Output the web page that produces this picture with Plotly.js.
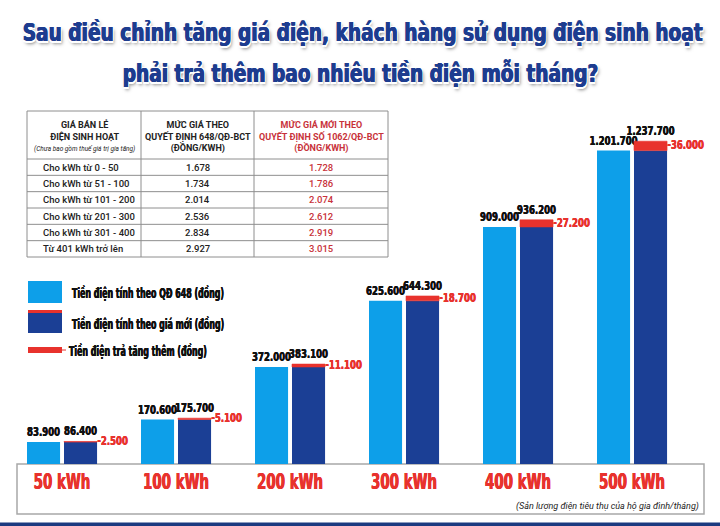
<!DOCTYPE html>
<html>
<head>
<meta charset="utf-8">
<script src="https://cdn.plot.ly/plotly-3.0.1.min.js"></script>
<style>
html,body{margin:0;padding:0;background:#fff;}
#chart{width:720px;height:526px;}
</style>
</head>
<body>
<div id="chart"></div>
<script>
// ---- data ----
const categories = ["50 kWh", "100 kWh", "200 kWh", "300 kWh", "400 kWh", "500 kWh"];
const oldBill = [83900, 170600, 372000, 625600, 909000, 1201700];
const newBill = [86400, 175700, 383100, 644300, 936200, 1237700];
const increase = [2500, 5100, 11100, 18700, 27200, 36000];

const tierLabels = ["Cho kWh từ 0 - 50", "Cho kWh từ 51 - 100", "Cho kWh từ 101 - 200",
                    "Cho kWh từ 201 - 300", "Cho kWh từ 301 - 400", "Từ 401 kWh trở lên"];
const priceOld = [1678, 1734, 2014, 2536, 2834, 2927];
const priceNew = [1728, 1786, 2074, 2612, 2919, 3015];

const legendLabels = ["Tiền điện tính theo QĐ 648 (đồng)", "Tiền điện tính theo giá mới (đồng)", "Tiền điện trả tăng thêm (đồng)"];
const titleLines = ["Sau điều chỉnh tăng giá điện, khách hàng sử dụng điện sinh hoạt", "phải trả thêm bao nhiêu tiền điện mỗi tháng?"];
const tableHeader = [
  "<b>GIÁ BÁN LẺ</b><br><b>ĐIỆN SINH HOẠT</b><br><i><span style='font-size:6.5px'>(Chưa bao gồm thuế giá trị gia tăng)</span></i>",
  "<b>MỨC GIÁ THEO</b><br><b>QUYẾT ĐỊNH 648/QĐ-BCT</b><br><b>(ĐỒNG/KWH)</b>",
  "<b>MỨC GIÁ MỚI THEO</b><br><b>QUYẾT ĐỊNH SỐ 1062/QĐ-BCT</b><br><b>(ĐỒNG/KWH)</b>"
];
const footNote = "(Sản lượng điện tiêu thụ của hộ gia đình/tháng)";

// ---- style ----
const W = 720, H = 526;
const LIGHT = "#0d9fe9", DARK = "#1b3f95", RED = "#e8322d", NAVY = "#1d3c8f", TRED = "#c8323a";
const HEAVY = "'DejaVu Sans', sans-serif";
const TFONT = "Roboto, 'Noto Sans', sans-serif";
const px = x => x / W, py = y => 1 - y / H;
const fmt = v => v.toString().replace(/\B(?=(\d{3})+(?!\d))/g, ".");
const idx = categories.map((c, i) => i);
const bold = (c, d) => `${d}px 0 0 ${c}, -${d}px 0 0 ${c}`;

const barW = 0.29;
const valFont = {family: HEAVY, size: 13, color: "#111", weight: 700, shadow: bold("#111", 0.3)};
const traces = [
  {
    type: "bar", x: idx, y: oldBill, offset: -0.307, width: barW,
    marker: {color: LIGHT}, texttemplate: "%{y:,.0f}", textposition: "outside",
    constraintext: "none", cliponaxis: false, textfont: valFont,
    hoverinfo: "skip", showlegend: false
  },
  {
    type: "bar", x: idx, y: oldBill, offset: 0.0175, width: barW,
    marker: {color: DARK}, hoverinfo: "skip", showlegend: false
  },
  {
    type: "bar", x: idx, y: increase, base: oldBill, offset: 0.0175, width: barW,
    marker: {color: RED, line: {color: RED, width: 0.6}}, customdata: newBill, texttemplate: "%{customdata:,.0f}",
    textposition: "outside", constraintext: "none", cliponaxis: false, textfont: valFont,
    hoverinfo: "skip", showlegend: false
  },
  {
    type: "scatter", mode: "text", x: idx.map(i => i + 0.31),
    y: oldBill.map((v, i) => v + increase[i] / 2), customdata: increase,
    texttemplate: "-%{customdata:,.0f}", textposition: "middle right",
    textfont: {family: HEAVY, size: 13, color: RED, weight: 700, shadow: bold(RED, 0.3)},
    cliponaxis: false, hoverinfo: "skip", showlegend: false
  }
];

const shapes = [
  {type: "rect", xref: "paper", yref: "paper", x0: px(17), x1: px(704), y0: py(514), y1: py(464),
   line: {color: "#a8a8a8", width: 1.5}, layer: "below"},
  {type: "rect", xref: "paper", yref: "paper", x0: 0, x1: 1, y0: 0, y1: py(522.5),
   fillcolor: "#1c3a80", line: {width: 0}},
  {type: "rect", xref: "paper", yref: "paper", x0: px(28), x1: px(62), y0: py(303), y1: py(281),
   fillcolor: LIGHT, line: {width: 0}},
  {type: "rect", xref: "paper", yref: "paper", x0: px(28), x1: px(62), y0: py(333), y1: py(310),
   fillcolor: DARK, line: {width: 0}},
  {type: "rect", xref: "paper", yref: "paper", x0: px(28), x1: px(62), y0: py(313), y1: py(310),
   fillcolor: RED, line: {width: 0}},
  {type: "rect", xref: "paper", yref: "paper", x0: px(28), x1: px(62), y0: py(353), y1: py(347),
   fillcolor: RED, line: {width: 0}},
  {type: "line", xref: "paper", yref: "paper", x0: px(62), x1: px(66), y0: py(350), y1: py(350),
   line: {color: RED, width: 1}}
];

const titleFont = {family: HEAVY, size: 24, color: NAVY, weight: 700,
  shadow: bold(NAVY, 0.6) + ", 1.5px 1.5px 0 #fff, -1.5px -1.5px 0 #fff, 1.5px -1.5px 0 #fff, -1.5px 1.5px 0 #fff, 2px 3px 4px rgba(0,0,0,0.5)"};
const legFont = {family: HEAVY, size: 14, color: "#111", weight: 700, shadow: bold("#111", 0.3)};
const annotations = [
  {xref: "paper", yref: "paper", x: px(362), y: py(33), text: titleLines[0], showarrow: false,
   xanchor: "center", yanchor: "middle", font: titleFont},
  {xref: "paper", yref: "paper", x: px(360), y: py(73), text: titleLines[1], showarrow: false,
   xanchor: "center", yanchor: "middle", font: titleFont},
  {xref: "paper", yref: "paper", x: px(70), y: py(293), text: legendLabels[0], showarrow: false,
   xanchor: "left", yanchor: "middle", font: legFont},
  {xref: "paper", yref: "paper", x: px(70), y: py(324), text: legendLabels[1], showarrow: false,
   xanchor: "left", yanchor: "middle", font: legFont},
  {xref: "paper", yref: "paper", x: px(67), y: py(351), text: legendLabels[2], showarrow: false,
   xanchor: "left", yanchor: "middle", font: legFont},
  {xref: "paper", yref: "paper", x: px(701), y: py(506), text: "<i>" + footNote + "</i>", showarrow: false,
   xanchor: "right", yanchor: "middle", font: {family: TFONT, size: 9, color: "#222"}}
];

// ---- price table (grid lines + cell texts built from the arrays) ----
const colEdges = [27, 141, 254, 388];
const headTop = 111, headBot = 159, rowH = (257 - 159) / tierLabels.length;
const rowEdges = [headTop, headBot].concat(tierLabels.map((t, i) => headBot + rowH * (i + 1)));
const gridColor = "#8e8e8e";
rowEdges.forEach(y => shapes.push({type: "line", xref: "paper", yref: "paper",
  x0: px(colEdges[0]), x1: px(colEdges[3]), y0: py(y), y1: py(y), line: {color: gridColor, width: 1}}));
colEdges.forEach(x => shapes.push({type: "line", xref: "paper", yref: "paper",
  x0: px(x), x1: px(x), y0: py(rowEdges[0]), y1: py(rowEdges[rowEdges.length - 1]), line: {color: gridColor, width: 1}}));
const colColors = ["#222", "#222", TRED];
tableHeader.forEach((h, c) => annotations.push({xref: "paper", yref: "paper",
  x: px((colEdges[c] + colEdges[c + 1]) / 2), y: py((headTop + headBot) / 2 + 1), text: h, showarrow: false,
  xanchor: "center", yanchor: "middle", align: "center",
  font: {family: TFONT, size: 9, color: colColors[c]}}));
const cols = [tierLabels, priceOld.map(fmt), priceNew.map(fmt)];
cols.forEach((col, c) => col.forEach((v, r) => {
  const yc = headBot + rowH * (r + 0.5);
  annotations.push(c === 0
    ? {xref: "paper", yref: "paper", x: px(colEdges[0] + 14), y: py(yc), text: v, showarrow: false,
       xanchor: "left", yanchor: "middle", font: {family: TFONT, size: 9.5, color: colColors[c], weight: 500}}
    : {xref: "paper", yref: "paper", x: px((colEdges[c] + colEdges[c + 1]) / 2), y: py(yc), text: v, showarrow: false,
       xanchor: "center", yanchor: "middle", font: {family: TFONT, size: 9.5, color: colColors[c], weight: 500}});
}));

const layout = {
  width: W, height: H,
  margin: {l: 0, r: 0, t: 0, b: 0},
  paper_bgcolor: "#fff", plot_bgcolor: "rgba(0,0,0,0)",
  separators: ",.",
  barmode: "overlay",
  showlegend: false,
  xaxis: {
    domain: [px(5), px(689)], range: [-0.5, 5.5], tickangle: 0, automargin: false,
    tickvals: idx, ticktext: categories, ticks: "", showgrid: false, zeroline: false,
    showline: false, fixedrange: true, ticklabelstandoff: 3,
    tickfont: {family: HEAVY, size: 21, color: RED, weight: 700, shadow: bold(RED, 0.5)}
  },
  yaxis: {
    domain: [py(464), py(100)], range: [0, 1395700], visible: false, fixedrange: true
  },
  shapes: shapes,
  annotations: annotations
};

// compress glyphs horizontally to mimic the condensed display face
function condense(nodes, factor, shiftLeft) {
  nodes.forEach(t => {
    const w = t.getComputedTextLength();
    if (w > 0) {
      t.setAttribute("textLength", (w * factor).toFixed(2));
      t.setAttribute("lengthAdjust", "spacingAndGlyphs");
      if (shiftLeft) {
        const x0 = parseFloat(t.getAttribute("x") || "0");
        t.setAttribute("x", (x0 - (w - w * factor) / 2).toFixed(2));
      }
    }
  });
}
function fitFactor(node, target) {
  const w = node ? node.getComputedTextLength() : 0;
  return w > 0 ? Math.min(1, target / w) : 1;
}

Plotly.newPlot("chart", traces, layout, {displayModeBar: false, staticPlot: true}).then(gd => {
  const annTexts = Array.from(gd.querySelectorAll(".annotation .annotation-text"));
  if (annTexts.length >= 5) {
    const ft = fitFactor(annTexts[0], 680);
    const fl = fitFactor(annTexts[2], 152);
    condense(annTexts.slice(0, 2), ft, false);
    condense(annTexts.slice(2, 5), fl, true);
  }
  const ticks = Array.from(gd.querySelectorAll(".xtick text"));
  const vals = Array.from(gd.querySelectorAll(".bartext"));
  const incs = Array.from(gd.querySelectorAll(".textpoint text"));
  const fTick = fitFactor(ticks[1], 66);
  const fVal = fitFactor(vals[0], 33);
  if (ticks.length) condense(ticks, fTick, false);
  if (vals.length) condense(vals, fVal, false);
  if (incs.length) condense(incs, fVal, false);
});
</script>
</body>
</html>
